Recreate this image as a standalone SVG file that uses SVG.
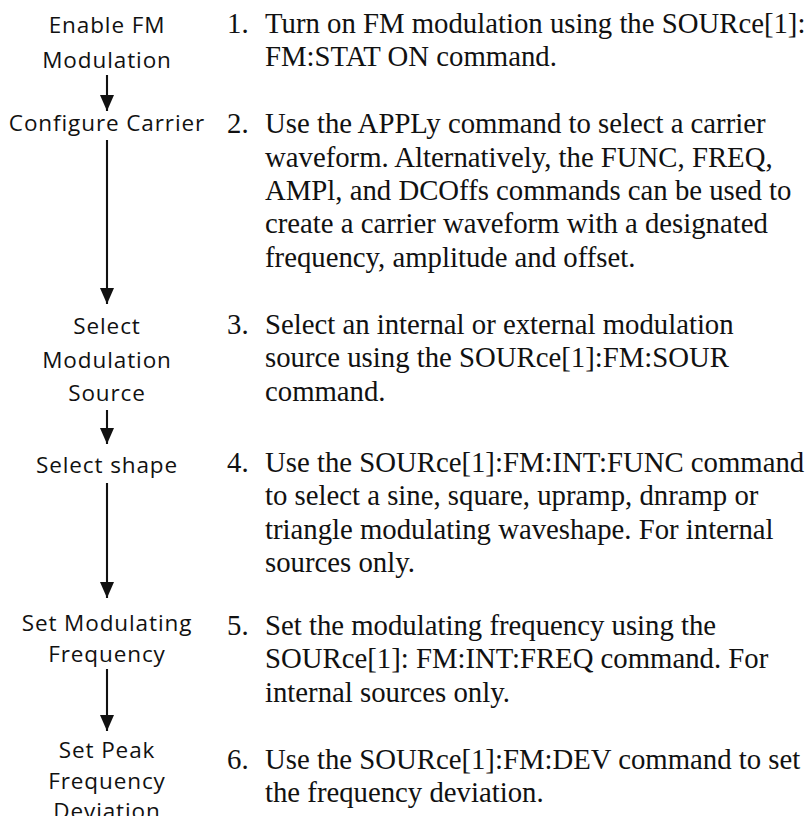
<svg xmlns="http://www.w3.org/2000/svg" width="810" height="816" viewBox="0 0 810 816">
<style>
.lbl{font-family:"Open Sans","Noto Sans",sans-serif;font-size:22.5px;fill:#111;text-anchor:middle;letter-spacing:0.9px}
.body{font-family:"Liberation Serif","Times New Roman",serif;font-size:28.75px;fill:#111}
.num{font-family:"Liberation Serif","Times New Roman",serif;font-size:28.75px;fill:#111}
.conn{stroke:#111;stroke-width:2.1;fill:none}
</style>
<defs>
<marker id="ah" viewBox="0 0 16 14" refX="16" refY="7" markerWidth="16" markerHeight="14" markerUnits="userSpaceOnUse" orient="auto">
<path d="M0,0 L16,7 L0,14 z" fill="#111"/>
</marker>
</defs>
<rect width="810" height="816" fill="#fff"/>
<g id="connectors">
<line class="conn" x1="107" y1="75" x2="107" y2="111" marker-end="url(#ah)"/>
<line class="conn" x1="107" y1="140" x2="107" y2="304" marker-end="url(#ah)"/>
<line class="conn" x1="107" y1="410" x2="107" y2="444" marker-end="url(#ah)"/>
<line class="conn" x1="107" y1="483" x2="107" y2="598" marker-end="url(#ah)"/>
<line class="conn" x1="107" y1="669" x2="107" y2="731" marker-end="url(#ah)"/>
</g>
<g id="node1">
<text class="lbl" x="107" y="33">Enable FM</text>
<text class="lbl" x="107" y="68">Modulation</text>
</g>
<g id="node2">
<text class="lbl" x="107" y="131">Configure Carrier</text>
</g>
<g id="node3">
<text class="lbl" x="107" y="334">Select</text>
<text class="lbl" x="107" y="367.5">Modulation</text>
<text class="lbl" x="107" y="401">Source</text>
</g>
<g id="node4">
<text class="lbl" x="107" y="473">Select shape</text>
</g>
<g id="node5">
<text class="lbl" x="107" y="631">Set Modulating</text>
<text class="lbl" x="107" y="662">Frequency</text>
</g>
<g id="node6">
<text class="lbl" x="107" y="758">Set Peak</text>
<text class="lbl" x="107" y="788.5">Frequency</text>
<text class="lbl" x="107" y="819">Deviation</text>
</g>
<g id="step1">
<text class="num" x="227" y="33">1.</text>
<text class="body" x="265" y="33">Turn on FM modulation using the SOURce[1]:</text>
<text class="body" x="265" y="66.4">FM:STAT ON command.</text>
</g>
<g id="step2">
<text class="num" x="227" y="133.2">2.</text>
<text class="body" x="265" y="133.2">Use the APPLy command to select a carrier</text>
<text class="body" x="265" y="166.6">waveform. Alternatively, the FUNC, FREQ,</text>
<text class="body" x="265" y="200">AMPl, and DCOffs commands can be used to</text>
<text class="body" x="265" y="233.4">create a carrier waveform with a designated</text>
<text class="body" x="265" y="266.8">frequency, amplitude and offset.</text>
</g>
<g id="step3">
<text class="num" x="227" y="334">3.</text>
<text class="body" x="265" y="334">Select an internal or external modulation</text>
<text class="body" x="265" y="367.4">source using the SOURce[1]:FM:SOUR</text>
<text class="body" x="265" y="400.8">command.</text>
</g>
<g id="step4">
<text class="num" x="227" y="472">4.</text>
<text class="body" x="265" y="472">Use the SOURce[1]:FM:INT:FUNC command</text>
<text class="body" x="265" y="505.4">to select a sine, square, upramp, dnramp or</text>
<text class="body" x="265" y="538.8">triangle modulating waveshape. For internal</text>
<text class="body" x="265" y="572.2">sources only.</text>
</g>
<g id="step5">
<text class="num" x="227" y="635">5.</text>
<text class="body" x="265" y="635">Set the modulating frequency using the</text>
<text class="body" x="265" y="668.4">SOURce[1]: FM:INT:FREQ command. For</text>
<text class="body" x="265" y="701.8">internal sources only.</text>
</g>
<g id="step6">
<text class="num" x="227" y="769">6.</text>
<text class="body" x="265" y="769">Use the SOURce[1]:FM:DEV command to set</text>
<text class="body" x="265" y="802">the frequency deviation.</text>
</g>
</svg>
